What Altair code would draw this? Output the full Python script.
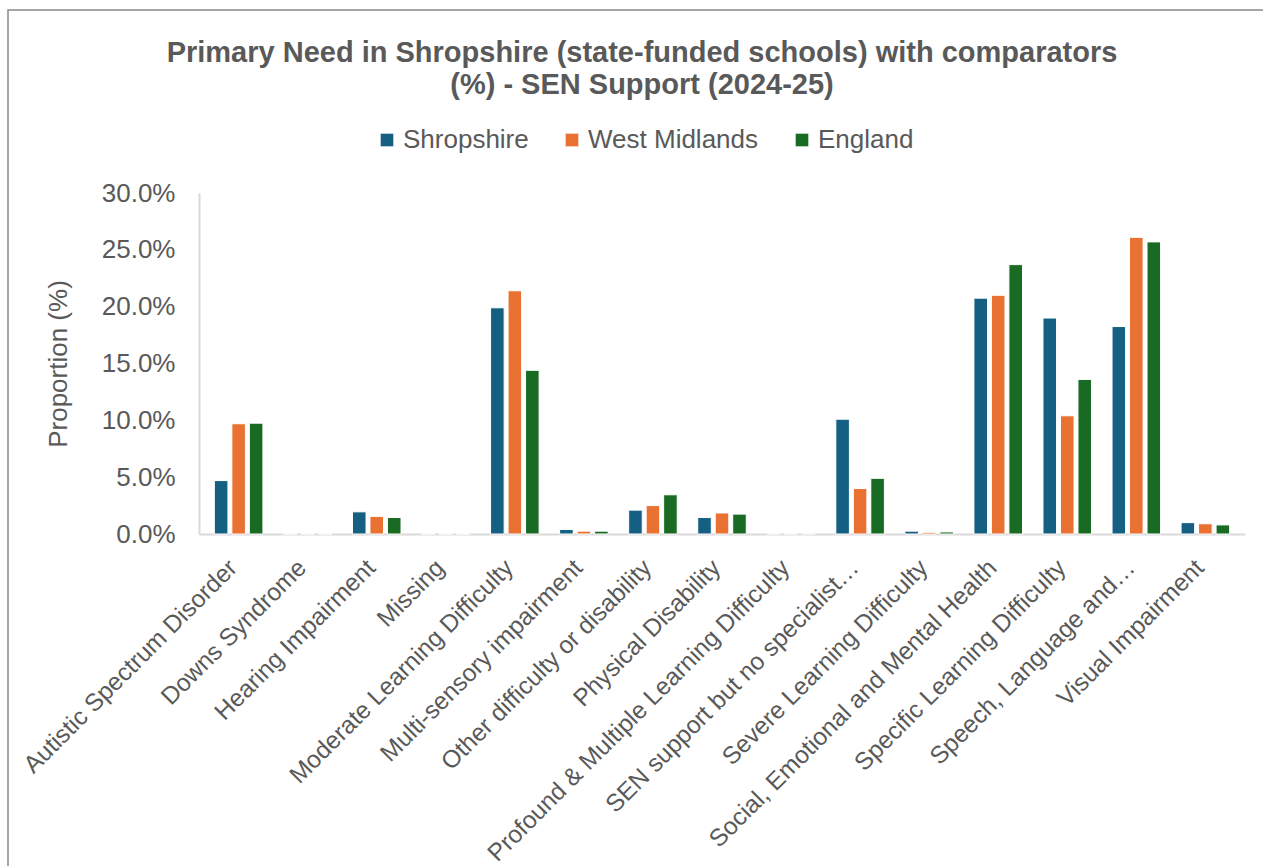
import altair as alt
import pandas as pd

categories = [
    "Autistic Spectrum Disorder",
    "Downs Syndrome",
    "Hearing Impairment",
    "Missing",
    "Moderate Learning Difficulty",
    "Multi-sensory impairment",
    "Other difficulty or disability",
    "Physical Disability",
    "Profound & Multiple Learning Difficulty",
    "SEN support but no specialist…",
    "Severe Learning Difficulty",
    "Social, Emotional and Mental Health",
    "Specific Learning Difficulty",
    "Speech, Language and…",
    "Visual Impairment",
]
series = ["Shropshire", "West Midlands", "England"]
shropshire = [4.7, 0.0, 1.95, 0.0, 19.9, 0.4, 2.1, 1.45, 0.03, 10.1, 0.25, 20.75, 19.0, 18.25, 1.0]
west_midlands = [9.7, 0.0, 1.55, 0.0, 21.4, 0.25, 2.5, 1.85, 0.02, 4.0, 0.15, 21.0, 10.4, 26.1, 0.9]
england = [9.75, 0.0, 1.45, 0.0, 14.4, 0.25, 3.45, 1.75, 0.02, 4.9, 0.18, 23.7, 13.6, 25.7, 0.8]
colors = ["#156082", "#E97132", "#196B24"]

rows = []
for name, vals in zip(series, [shropshire, west_midlands, england]):
    for c, v in zip(categories, vals):
        rows.append({"Need": c, "Area": name, "Value": v})
df = pd.DataFrame(rows)

TEXT = "#595959"
FONT = "Liberation Sans"

bars = alt.Chart(df).mark_bar(stroke="white", strokeWidth=1).encode(
    x=alt.X(
        "Need:N",
        sort=categories,
        title=None,
        scale=alt.Scale(paddingInner=0.24, paddingOuter=0.194),
        axis=alt.Axis(
            labelAngle=-45,
            labelAlign="right",
            labelBaseline="middle",
            labelFontSize=24.5,
            labelColor=TEXT,
            labelFont=FONT,
            labelPadding=30,
            labelOffset=-5,
            labelLimit=600,
            ticks=False,
            domainColor="#D9D9D9",
            domainWidth=2,
            grid=False,
        ),
    ),
    xOffset=alt.XOffset("Area:N", sort=series, scale=alt.Scale(paddingInner=0.224, paddingOuter=0.112)),
    y=alt.Y(
        "Value:Q",
        title="Proportion (%)",
        scale=alt.Scale(domain=[0, 30], nice=False),
        axis=alt.Axis(
            values=[0, 5, 10, 15, 20, 25, 30],
            labelExpr="format(datum.value, '.1f') + '%'",
            labelFontSize=26,
            labelColor=TEXT,
            labelFont=FONT,
            labelPadding=24,
            ticks=False,
            tickSize=0,
            domainColor="#D9D9D9",
            domainWidth=2,
            grid=False,
            titleFontSize=26,
            titleFont=FONT,
            titleColor=TEXT,
            titleFontWeight="normal",
            titlePadding=30,
        ),
    ),
    color=alt.Color(
        "Area:N",
        sort=series,
        scale=alt.Scale(domain=series, range=colors),
        legend=alt.Legend(
            title=None,
            orient="none",
            legendX=175,
            legendY=-66,
            direction="horizontal",
            symbolType="square",
            symbolSize=160,
            symbolStrokeWidth=0,
            labelFontSize=26,
            labelFont=FONT,
            labelColor=TEXT,
            labelOffset=3,
            labelLimit=400,
            columnPadding=30,
        ),
    ),
)

frame = alt.Chart(alt.Data(values=[{}])).mark_rect(
    filled=False, stroke="#898989", strokeWidth=1.5
).encode(
    x=alt.value(-191), x2=alt.value(1100), y=alt.value(-183), y2=alt.value(700)
)

chart = alt.layer(frame, bars).properties(
    width=1046,
    height=341,
    background="white",
    autosize=alt.AutoSizeParams(type="none"),
    padding={"left": 199, "top": 193, "right": 18, "bottom": 332},
    title=alt.TitleParams(
        text=[
            "Primary Need in Shropshire (state-funded schools) with comparators",
            "(%) - SEN Support (2024-25)",
        ],
        anchor="middle",
        frame="group",
        dx=-80,
        offset=-91,
        fontSize=29,
        font=FONT,
        fontWeight="bold",
        color=TEXT,
        lineHeight=32,
    ),
).configure_view(stroke="transparent", strokeWidth=0)

chart.save("out.html", embed_options={"renderer": "svg", "actions": False})
